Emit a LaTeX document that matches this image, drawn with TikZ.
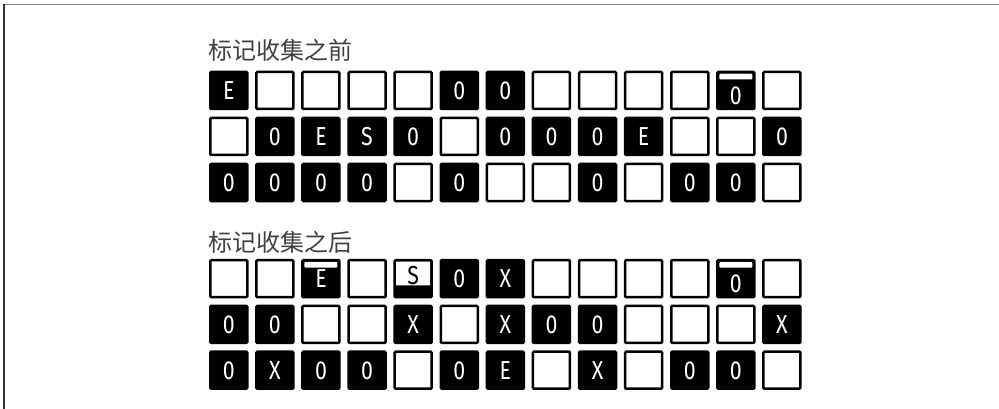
\documentclass[tikz,border=0pt]{standalone}
\usepackage{fontspec}
\newfontfamily\cjkfont{Noto Sans CJK SC}
\newfontfamily\cellfont[FakeStretch=0.82]{Fira Sans}
\usetikzlibrary{calc}

\newcommand{\low}[1]{\raisebox{-5pt}{#1}}
\newcommand{\high}[1]{\raisebox{3.5pt}{#1}}

\begin{document}
\begin{tikzpicture}[
    x=1pt, y=-1pt,
    cell/.style     = {rectangle, minimum size=37pt, inner sep=0pt,
                       line width=2.5pt, draw=black, rounded corners=1pt,
                       font=\cellfont\fontsize{26}{26}\selectfont,
                       text height=18pt, text depth=0pt},
    blk/.style      = {cell, fill=black, text=white},
    wht/.style      = {cell, fill=white},
    topbar/.style   = {blk, path picture={
                         \fill[white]
                           ([xshift=2pt,yshift=-1.75pt]path picture bounding box.north west)
                           rectangle
                           ([xshift=-2pt,yshift=-7.5pt]path picture bounding box.north east);}},
    halfcell/.style = {cell, fill=black, text=black, path picture={
                         \fill[white]
                           ([xshift=1.2pt,yshift=-1.2pt]path picture bounding box.north west)
                           rectangle
                           ([xshift=-1.2pt,yshift=-25.2pt]path picture bounding box.north east);}},
    heading/.style  = {anchor=west, inner sep=0pt, text=black!75,
                       font=\cjkfont\fontsize{24}{24}\selectfont},
]
\useasboundingbox (0,0) rectangle (999,409);

% frame
\draw[black!50, line width=1.3pt] (4,4.5) -- (999,4.5);
\draw[black!80, line width=1.3pt] (4,4.5) -- (4,409);

% before
\node[heading] (pre) at (208,50) {标记收集之前};
\foreach \row [count=\r from 0] in {
    {blk/E, wht/, wht/, wht/, wht/, blk/0, blk/0, wht/, wht/, wht/, wht/, topbar/\low{0}, wht/},
    {wht/, blk/0, blk/E, blk/S, blk/0, wht/, blk/0, blk/0, blk/0, blk/E, wht/, wht/, blk/0},
    {blk/0, blk/0, blk/0, blk/0, wht/, blk/0, wht/, wht/, blk/0, wht/, blk/0, blk/0, wht/}}
  \foreach \k/\v [count=\c from 0] in \row
    \node[\k] (pre-\r-\c) at ({228.75+46.1*\c},{90.5+46*\r}) {\v};

% after
\node[heading] (post) at (208,242.7) {标记收集之后};
\foreach \row [count=\r from 0] in {
    {wht/, wht/, topbar/E, wht/, halfcell/\high{S}, blk/0, blk/X, wht/, wht/, wht/, wht/, topbar/\low{0}, wht/},
    {blk/0, blk/0, wht/, wht/, blk/X, wht/, blk/X, blk/0, blk/0, wht/, wht/, wht/, blk/X},
    {blk/0, blk/X, blk/0, blk/0, wht/, blk/0, blk/E, wht/, blk/X, wht/, blk/0, blk/0, wht/}}
  \foreach \k/\v [count=\c from 0] in \row
    \node[\k] (post-\r-\c) at ({228.75+46.1*\c},{278.7+45.75*\r}) {\v};
\end{tikzpicture}
\end{document}
